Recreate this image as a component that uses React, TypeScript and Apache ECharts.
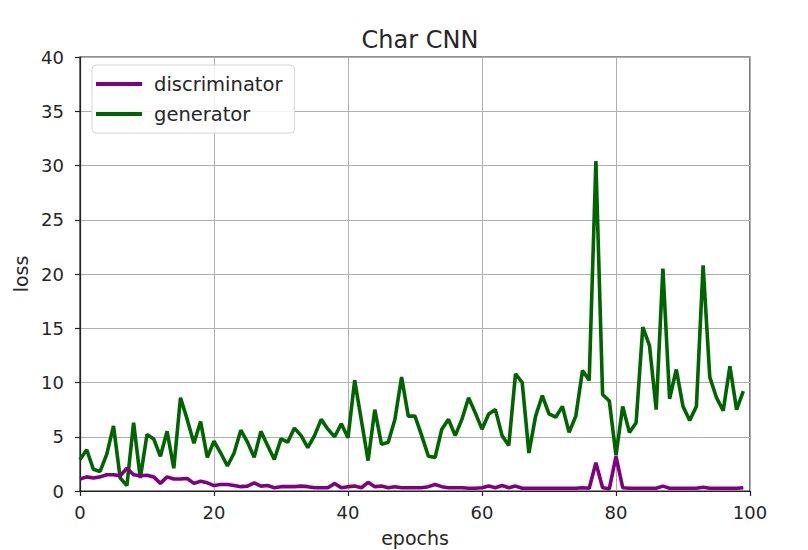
import * as echarts from 'echarts';
import { useEffect, useRef } from 'react';

const epochs = Array.from({ length: 100 }, (_, i) => i);

const discriminator = [
  1.1, 1.3, 1.2, 1.3, 1.5, 1.5, 1.4, 2.1, 1.5, 1.4,
  1.45, 1.3, 0.7, 1.3, 1.1, 1.1, 1.15, 0.7, 0.9, 0.75,
  0.5, 0.6, 0.6, 0.5, 0.4, 0.45, 0.75, 0.45, 0.5, 0.3,
  0.4, 0.4, 0.4, 0.45, 0.4, 0.3, 0.3, 0.3, 0.7, 0.3,
  0.4, 0.45, 0.3, 0.8, 0.4, 0.45, 0.3, 0.4, 0.3, 0.3,
  0.3, 0.3, 0.4, 0.6, 0.4, 0.3, 0.3, 0.3, 0.25, 0.25,
  0.3, 0.45, 0.3, 0.5, 0.3, 0.45, 0.25, 0.25, 0.25, 0.25,
  0.25, 0.25, 0.25, 0.25, 0.25, 0.3, 0.25, 2.6, 0.3, 0.2,
  3.2, 0.3, 0.25, 0.25, 0.25, 0.25, 0.25, 0.45, 0.25, 0.25,
  0.25, 0.25, 0.25, 0.35, 0.25, 0.25, 0.25, 0.25, 0.25, 0.3,
];

const generator = [
  2.9, 3.8, 2.0, 1.8, 3.4, 6.0, 1.2, 0.5, 6.3, 1.2,
  5.2, 4.8, 3.2, 5.5, 2.1, 8.6, 6.6, 4.4, 6.4, 3.1,
  4.6, 3.5, 2.3, 3.5, 5.6, 4.5, 3.1, 5.5, 4.2, 2.9,
  4.8, 4.5, 5.8, 5.1, 4.0, 5.1, 6.6, 5.7, 5.0, 6.2,
  4.9, 10.2, 6.5, 2.8, 7.5, 4.3, 4.5, 6.6, 10.5, 6.9,
  6.9, 5.1, 3.2, 3.1, 5.7, 6.6, 5.1, 6.6, 8.6, 7.2,
  5.7, 7.1, 7.5, 5.1, 4.2, 10.8, 10.0, 3.5, 6.9, 8.8,
  7.1, 6.8, 7.8, 5.4, 6.9, 11.1, 10.2, 30.4, 8.9, 8.3,
  3.3, 7.8, 5.4, 6.3, 15.1, 13.4, 7.5, 20.5, 8.5, 11.2,
  7.8, 6.5, 7.8, 20.8, 10.5, 8.6, 7.4, 11.5, 7.5, 9.2,
];

const FONT = 'DejaVu Sans';
const TEXT = '#262626';
const SPINE = '#222';

export default function App() {
  const elRef = useRef<HTMLDivElement | null>(null);

  useEffect(() => {
    if (!elRef.current) return;
    const chart = echarts.init(elRef.current, undefined, { renderer: 'svg' });

    const pairs = (vals: number[]) => epochs.map((e, i) => [e, vals[i]]);

    chart.setOption({
      animation: false,
      backgroundColor: '#fff',
      textStyle: { fontFamily: FONT, color: TEXT },
      title: {
        text: 'Char CNN',
        left: 415,
        top: 23,
        textAlign: 'center',
        textStyle: { fontFamily: FONT, fontSize: 24, fontWeight: 'normal', color: TEXT },
      },
      grid: {
        left: 80,
        width: 670,
        top: 57,
        height: 434,
        // echarts 6 would otherwise shrink the grid to fit the axis names
        outerBoundsMode: 'none',
        show: true,
        borderColor: SPINE,
        borderWidth: 1.2,
      },
      legend: {
        orient: 'vertical',
        left: 92,
        top: 65,
        padding: [9, 12, 9, 4],
        itemGap: 10,
        itemWidth: 46,
        itemHeight: 4,
        icon: 'rect',
        backgroundColor: 'rgba(255,255,255,0.85)',
        borderColor: '#d4d4d4',
        borderWidth: 1,
        borderRadius: 4,
        textStyle: { fontFamily: FONT, fontSize: 19.5, color: TEXT, padding: [0, 0, 0, 7] },
        data: ['discriminator', 'generator'],
      },
      xAxis: {
        type: 'value',
        min: 0,
        max: 100,
        interval: 20,
        name: 'epochs',
        nameLocation: 'middle',
        nameGap: 37,
        nameTextStyle: { fontFamily: FONT, fontSize: 19, color: TEXT },
        axisLine: { show: true, lineStyle: { color: SPINE, width: 1.2 } },
        axisTick: { show: true, length: 5, lineStyle: { color: SPINE, width: 1.2 } },
        axisLabel: { fontFamily: FONT, fontSize: 18, color: TEXT, margin: 12 },
        splitLine: { show: true, lineStyle: { color: '#b0b0b0', width: 1 } },
      },
      yAxis: {
        type: 'value',
        min: 0,
        max: 40,
        interval: 5,
        name: 'loss',
        nameLocation: 'middle',
        nameRotate: 90,
        nameGap: 50,
        nameTextStyle: { fontFamily: FONT, fontSize: 19, color: TEXT },
        axisLine: { show: true, lineStyle: { color: SPINE, width: 1.2 } },
        axisTick: { show: true, length: 5, lineStyle: { color: SPINE, width: 1.2 } },
        axisLabel: { fontFamily: FONT, fontSize: 18, color: TEXT, margin: 16 },
        splitLine: { show: true, lineStyle: { color: '#b0b0b0', width: 1 } },
      },
      series: [
        {
          name: 'discriminator',
          type: 'line',
          data: pairs(discriminator),
          showSymbol: false,
          symbol: 'none',
          lineStyle: { color: '#800080', width: 3.6 },
          itemStyle: { color: '#800080' },
          z: 3,
        },
        {
          name: 'generator',
          type: 'line',
          data: pairs(generator),
          showSymbol: false,
          symbol: 'none',
          lineStyle: { color: '#006400', width: 3.6 },
          itemStyle: { color: '#006400' },
          z: 2,
        },
      ],
    });

    return () => chart.dispose();
  }, []);

  return (
    <div
      ref={elRef}
      style={{ position: 'fixed', left: 0, top: 0, width: 808, height: 550 }}
    />
  );
}
